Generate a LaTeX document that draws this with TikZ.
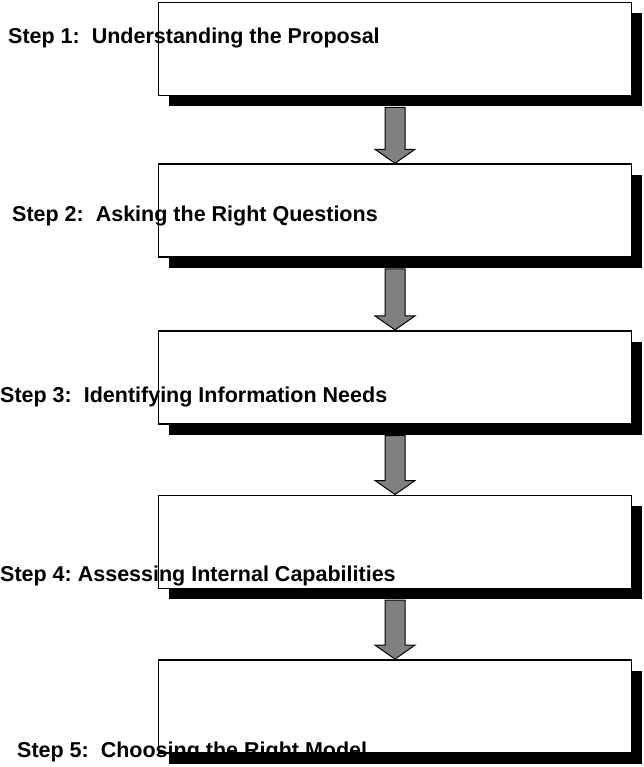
\documentclass[tikz,border=0pt]{standalone}
\usepackage{fontspec}
\setmainfont{Liberation Sans}
\usetikzlibrary{positioning,calc,shadows}

\tikzset{
  stepbox/.style={draw, line width=1.6pt, fill=white, minimum width=473pt,
    minimum height=93pt, inner sep=0pt,
    drop shadow={shadow xshift=10pt, shadow yshift=-11pt, fill=black, opacity=1}},
  steplabel/.style={draw=none, anchor=base west, inner sep=0pt,
    font=\fontsize{21.5}{26}\selectfont\bfseries},
  blockarrow/.style={draw=black, fill=gray, line width=1pt},
}

% gray block arrow from the shadow of one box to the top of the next
\newcommand{\stepArrow}[2]{%
  \filldraw [blockarrow]
    ($(#1.south)+(-10,11)$) -- ($(#2.north)+(-10,-14)$) -- ($(#2.north)+(-20,-14)$)
    -- (#2.north) -- ($(#2.north)+(20,-14)$) -- ($(#2.north)+(10,-14)$)
    -- ($(#1.south)+(10,11)$) -- cycle;
}

\frenchspacing

\begin{document}
\begin{tikzpicture}[x=1pt, y=-1pt]
\useasboundingbox (0,0) rectangle (643,767);

% boxes
\node [stepbox] (B1) at (395,49) {};
\node [stepbox, below=67pt of B1] (B2) {};
\node [stepbox, below=72pt of B2] (B3) {};
\node [stepbox, below=70pt of B3] (B4) {};
\node [stepbox, below=70pt of B4] (B5) {};

% arrows
\stepArrow{B1}{B2}
\stepArrow{B2}{B3}
\stepArrow{B3}{B4}
\stepArrow{B4}{B5}

% labels
\node [steplabel] (L1) at (8,44) {Step 1:~~Understanding the Proposal};
\node [steplabel] (L2) at (12,222) {Step 2:~~Asking the Right Questions};
\node [steplabel] (L3) at (0,402) {Step 3:~~Identifying Information Needs};
\node [steplabel] (L4) at (0,581) {Step 4: Assessing Internal Capabilities};
\node [steplabel] (L5) at (17,757) {Step 5:~~Choosing the Right Model};

\end{tikzpicture}
\end{document}
